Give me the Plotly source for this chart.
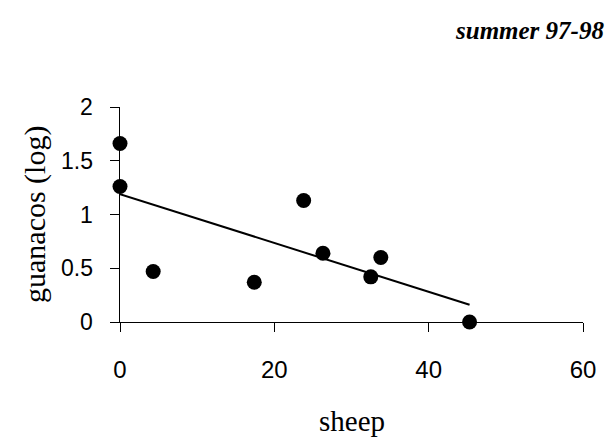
import plotly.graph_objects as go

# Sheep vs. guanaco abundance (log), summer 97-98
sheep = [0.0, 0.0, 4.3, 17.4, 23.8, 26.3, 32.5, 33.8, 45.3]
guanacos_log = [1.66, 1.26, 0.47, 0.37, 1.13, 0.64, 0.42, 0.60, 0.0]

# Fitted regression line end points
trend_x = [0.0, 45.3]
trend_y = [1.19, 0.16]

x_ticks = [0, 20, 40, 60]
y_ticks = [0, 0.5, 1, 1.5, 2]
y_tick_text = ["0", "0.5", "1", "1.5", "2"]

W, H = 607, 445
ML, MR, MT, MB = 120, 24, 107, 123
plot_w = W - ML - MR
plot_h = H - MT - MB


def px_x(px):
    return (px - ML) / plot_w


def px_y(py):
    return (H - MB - py) / plot_h


fig = go.Figure()
fig.add_trace(go.Scatter(
    x=trend_x, y=trend_y, mode="lines",
    line=dict(color="black", width=2),
    cliponaxis=False, showlegend=False, hoverinfo="skip",
))
fig.add_trace(go.Scatter(
    x=sheep, y=guanacos_log, mode="markers",
    marker=dict(color="black", size=15),
    cliponaxis=False, showlegend=False,
))

sans = "Liberation Sans, Arial, sans-serif"
serif = "Liberation Serif, Times New Roman, serif"

# y tick labels sit well away from the axis line, so they are placed as
# annotations at each tick value on the y scale
y_labels = [
    dict(text=t, xref="paper", yref="y", x=px_x(95), y=v,
         xanchor="right", yanchor="middle", showarrow=False,
         font=dict(family=sans, size=23, color="black"))
    for v, t in zip(y_ticks, y_tick_text)
]

fig.update_layout(
    width=W, height=H,
    margin=dict(l=ML, r=MR, t=MT, b=MB),
    paper_bgcolor="white", plot_bgcolor="white",
    xaxis=dict(
        range=[0, 60], tickvals=x_ticks, ticks="outside", ticklen=9,
        tickwidth=1, tickcolor="black", showline=True, linecolor="black",
        linewidth=1, showgrid=False, zeroline=False,
        tickfont=dict(family=sans, size=24, color="black"),
        ticklabelstandoff=17,
    ),
    yaxis=dict(
        range=[0, 2], tickvals=y_ticks, ticks="outside", showticklabels=False,
        ticklen=9, tickwidth=1, tickcolor="black", showline=True,
        linecolor="black", linewidth=1, showgrid=False, zeroline=False,
    ),
    annotations=y_labels + [
        dict(text="sheep", xref="paper", yref="paper",
             x=px_x(352), y=px_y(421), xanchor="center", yanchor="middle",
             showarrow=False, font=dict(family=serif, size=29, color="black")),
        dict(text="guanacos (log)", textangle=-90, xref="paper", yref="paper",
             x=px_x(35), y=px_y(215), xanchor="center", yanchor="middle",
             showarrow=False, font=dict(family=serif, size=30, color="black")),
        dict(text="<b><i>summer 97-98</i></b>", xref="paper", yref="paper",
             x=px_x(606), y=px_y(30), xanchor="right", yanchor="middle",
             showarrow=False, font=dict(family=serif, size=25, color="black")),
    ],
)

fig.write_html("out.html")
